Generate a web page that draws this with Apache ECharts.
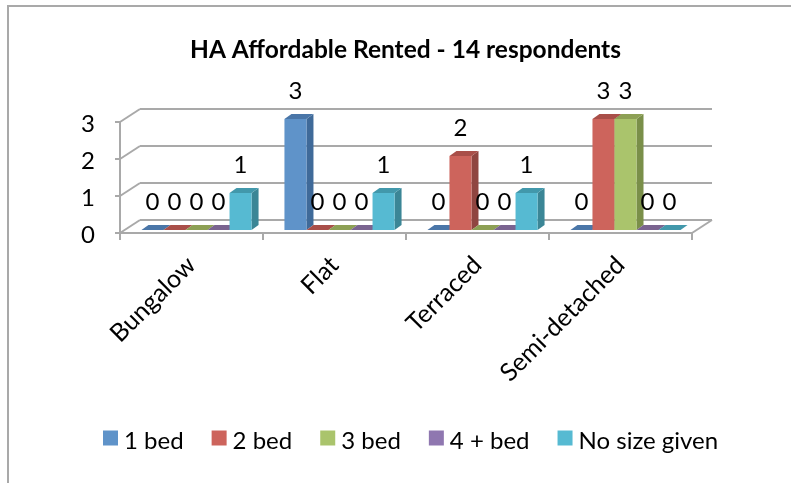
<!DOCTYPE html>
<html><head><meta charset="utf-8">
<style>html,body{margin:0;padding:0;background:#fff}#c{width:791px;height:483px}</style>
<script src="https://cdn.jsdelivr.net/npm/echarts@6/dist/echarts.min.js"></script>
</head><body><div id="c"></div>
<script>
const categories = ['Bungalow','Flat','Terraced','Semi-detached'];
const yTicks = [0,1,2,3];
const oneBed = [0,3,0,0];
const twoBed = [0,0,2,3];
const threeBed = [0,0,0,3];
const fourBed = [0,0,0,0];
const noSize = [1,1,1,0];
const seriesList = [
  {name:'1 bed', values:oneBed, front:'#5f93c9', side:'#3f6a99', top:'#4a76a8'},
  {name:'2 bed', values:twoBed, front:'#cd645c', side:'#8f4540', top:'#a94f49'},
  {name:'3 bed', values:threeBed, front:'#aac46c', side:'#7a8f49', top:'#8da055'},
  {name:'4 + bed', values:fourBed, front:'#8f77b0', side:'#67527f', top:'#7a6490'},
  {name:'No size given', values:noSize, front:'#56bad2', side:'#3b8696', top:'#4298ab'}
];
const GREY='#a9a9a9', FONT='Lato, Carlito, "Open Sans", sans-serif';
const wallDx=20, wallDy=-13, barDx=7, barDy=-5, baseShiftX=5, baseShiftY=-3;

const chart = echarts.init(document.getElementById('c'), null, {renderer:'canvas'});
const wallSeries = {
  type:'custom', name:'walls', silent:true, z:1, data:yTicks.map(v=>[0,v]),
  renderItem(params, api){
    const v=api.value(1);
    const a=api.coord([0,v]), band=api.size([1,0])[0];
    const y=a[1], x0=a[0]-band/2, x1=x0+band*categories.length;
    const ls={stroke:GREY,lineWidth:2,fill:null};
    const kids=[
      {type:'line',shape:{x1:x0,y1:y,x2:x0+wallDx,y2:y+wallDy},style:ls},
      {type:'line',shape:{x1:x0+wallDx,y1:y+wallDy,x2:x1+wallDx,y2:y+wallDy},style:ls}
    ];
    if(v===0) kids.push({type:'line',shape:{x1:x1,y1:y,x2:x1+wallDx,y2:y+wallDy},style:ls});
    return {type:'group',children:kids};
  }
};
const barSeries = seriesList.map((s,i)=>({
  type:'custom', name:s.name, z:3, itemStyle:{color:s.front},
  data:s.values.map((v,k)=>[k,v]),
  renderItem(params, api){
    const k=api.value(0), v=api.value(1);
    const c=api.coord([k,v]), b=api.coord([k,0]), band=api.size([1,0])[0];
    const w=band*0.154;
    const x=c[0]+(i-2.5)*w+baseShiftX, yt=c[1]+baseShiftY, yb=b[1]+baseShiftY;
    const poly=(pts,fill)=>({type:'polygon',shape:{points:pts},style:{fill,stroke:null}});
    return {type:'group',children:[
      poly([[x+w,yt],[x+w+barDx,yt+barDy],[x+w+barDx,yb+barDy],[x+w,yb]],s.side),
      poly([[x,yt],[x+barDx,yt+barDy],[x+w+barDx,yt+barDy],[x+w,yt]],s.top),
      poly([[x,yt],[x+w,yt],[x+w,yb],[x,yb]],s.front)
    ]};
  }
}));
const labelSeries = seriesList.map((s,i)=>({
  type:'custom', name:s.name+' labels', silent:true, z:5,
  data:s.values.map((v,k)=>[k,v]),
  renderItem(params, api){
    const k=api.value(0), v=api.value(1);
    const c=api.coord([k,v]), band=api.size([1,0])[0], w=band*0.154;
    return {type:'text',style:{text:String(v),x:c[0]+(i-2)*w+baseShiftX,y:c[1]+baseShiftY-28,
      align:'center',verticalAlign:'middle',font:'24px '+FONT,fill:'#000'}};
  }
}));
chart.setOption({
  animation:false,
  backgroundColor:'#fff',
  title:{text:'HA Affordable Rented - 14 respondents',left:400.5,top:33,textAlign:'center',
    textStyle:{fontFamily:FONT,fontWeight:'bold',fontSize:24.5,color:'#000'}},
  legend:{data:seriesList.map(s=>s.name),left:98,top:424,icon:'rect',itemWidth:15,itemHeight:15,itemGap:28,
    selectedMode:false,formatter:'{a|{name}}',
    textStyle:{rich:{a:{fontFamily:FONT,fontSize:24,color:'#000',padding:[6,0,0,1]}}}},
  grid:{left:120,right:99,top:122,height:111,containLabel:false},
  xAxis:{type:'category',data:categories,
    axisLine:{lineStyle:{color:GREY,width:2}},
    axisTick:{show:true,alignWithLabel:false,length:7,lineStyle:{color:GREY,width:2}},
    axisLabel:{rotate:45,margin:28,interval:0,fontFamily:FONT,fontSize:25,color:'#000'},
    splitLine:{show:false}},
  yAxis:{type:'value',min:0,max:3,interval:1,
    axisLine:{show:true,lineStyle:{color:GREY,width:2}},
    axisTick:{show:true,length:5,lineStyle:{color:GREY,width:2}},
    axisLabel:{margin:25,formatter:'{a|{value}}',rich:{a:{fontFamily:FONT,fontSize:24,color:'#000',padding:[4,0,0,0]}}},
    splitLine:{show:false}},
  graphic:[
    {type:'polyline',silent:true,shape:{points:[[8,483],[8,6],[791,6]]},style:{stroke:GREY,lineWidth:2,fill:null}}
  ],
  series:[wallSeries,...barSeries,...labelSeries]
});
</script></body></html>
